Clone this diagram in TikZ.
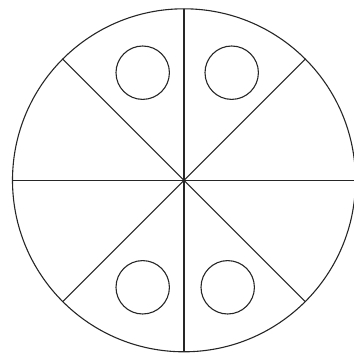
\documentclass[tikz,border=0pt]{standalone}
\usetikzlibrary{calc}
\tikzset{
  rim/.style={draw=black!85, line width=1.1pt},
  spoke/.style={draw=black!85, line width=1.1pt},
  hole/.style={circle, draw=black!85, line width=1.1pt, minimum size=53.4pt, inner sep=0},
}
\begin{document}
\begin{tikzpicture}[x=1pt, y=-1pt]
    \useasboundingbox (0,0) rectangle (354,353);
    % Layout: big wheel, eight spokes, four holes near the vertical spoke

    % --- wheel ---
    \coordinate (hub) at (184, 180.3);
    \draw[rim] (hub) circle[radius=171.5];

    % --- spokes ---
    \foreach \ang in {0,45,...,315} {
      \coordinate (r\ang) at ($(hub)+(\ang:171.5)$);
      \draw[spoke] (hub) -- (r\ang);
    }

    % --- holes ---
    \node[hole] (holeUL) at (142.7, 72.7) {};
    \node[hole] (holeUR) at (231.7, 72.7) {};
    \node[hole] (holeLL) at (142.7, 287.3) {};
    \node[hole] (holeLR) at (227.7, 287.3) {};
  \end{tikzpicture}
\end{document}
